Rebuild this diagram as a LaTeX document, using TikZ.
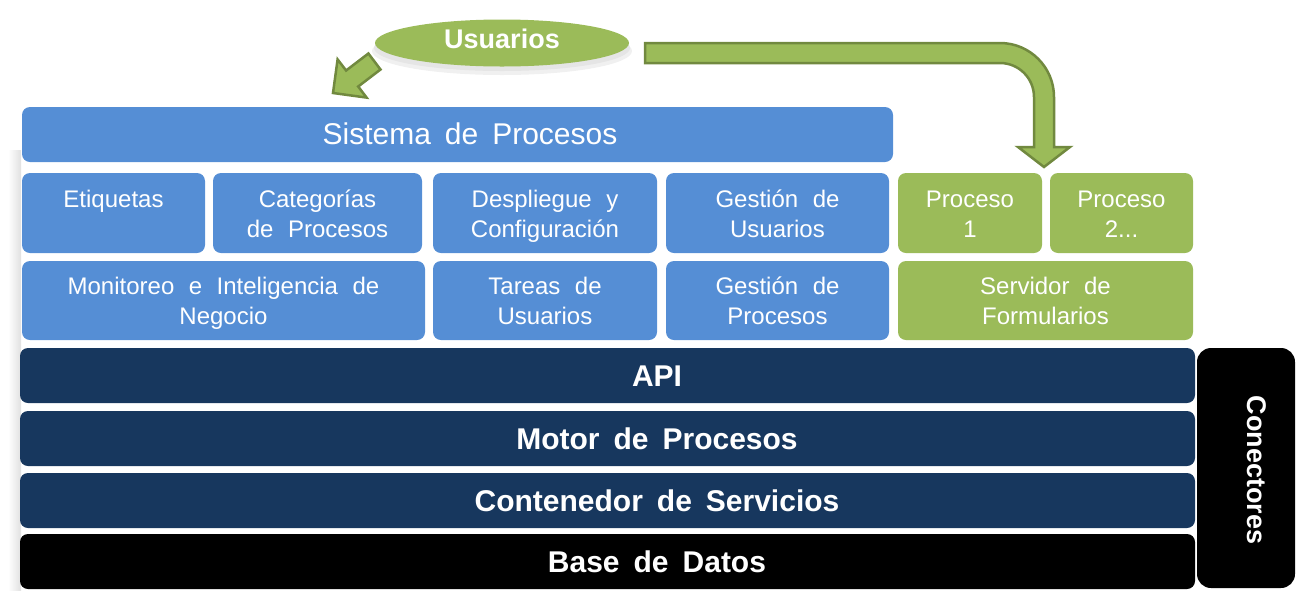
\documentclass[tikz,border=0pt]{standalone}
\usepackage{fontspec}
\setmainfont{Liberation Sans}
\usetikzlibrary{shapes.geometric}
\definecolor{cellblue}{HTML}{558ED5}
\definecolor{cellgreen}{HTML}{9BBB59}
\definecolor{arrowedge}{HTML}{71893F}
\definecolor{navy}{HTML}{17375E}
\newcommand\cst{\rule[-6pt]{0pt}{30pt}}
\newcommand\cellfont{\fontsize{24}{30}\selectfont\spaceskip=14.5pt plus 1pt\relax}
\newcommand\barfont{\bfseries\fontsize{30}{36}\selectfont\spaceskip=14pt plus 1pt\relax}
\newcommand\sisfont{\fontsize{30}{36}\selectfont\spaceskip=14pt plus 1pt\relax}
\tikzset{
  cellbox/.style={rounded corners=8pt, inner sep=0pt, text=white, align=center, font=\cellfont},
  bluecell/.style={cellbox, fill=cellblue},
  greencell/.style={cellbox, fill=cellgreen},
  barbox/.style={rounded corners=8pt, inner sep=0pt, minimum width=1175pt, minimum height=55pt},
  barlabel/.style={inner sep=0pt, text=white, font=\barfont, text height=21.5pt, text depth=0pt},
  blockarrow/.style={fill=cellgreen, draw=arrowedge, line width=2.5pt, line join=miter},
}
\begin{document}
\begin{tikzpicture}[x=1pt,y=-1pt]
\useasboundingbox (0,0) rectangle (1299,590);
% soft shadows
\shade[left color=white, right color=black!12] (8,150) rectangle (21,590);
\fill[black!6] (502,51) ellipse [x radius=130pt, y radius=24pt];
\fill[black!10] (502,48) ellipse [x radius=128pt, y radius=23pt];
% Usuarios
\node[ellipse, fill=cellgreen, minimum width=254pt, minimum height=47pt, inner sep=0pt] (usr) at (502,43) {};
\node[anchor=base, text=white, font=\bfseries\fontsize{27}{30}\selectfont, inner sep=0pt] (usrt) at (502,48) {Usuarios};
% top bar
\node[bluecell, minimum width=871pt, minimum height=55pt] (sis) at (457.5,134.5) {};
\node[anchor=base, text=white, font=\sisfont, inner sep=0pt] (sist) at (470,144) {Sistema de Procesos};
% row 1
\node[bluecell, minimum width=183pt, minimum height=80pt] (etq) at (113.5,213) {\cst Etiquetas\\\cst};
\node[bluecell, minimum width=209pt, minimum height=80pt] (cat) at (317.5,213) {\cst Categorías\\\cst de Procesos};
\node[bluecell, minimum width=224pt, minimum height=80pt] (desp) at (545,213) {\cst Despliegue y\\\cst Configuración};
\node[bluecell, minimum width=223pt, minimum height=80pt] (gu) at (777.5,213) {\cst Gestión de\\\cst Usuarios};
\node[greencell, minimum width=144pt, minimum height=80pt] (p1) at (970,213) {\cst Proceso\\\cst 1};
\node[greencell, minimum width=143pt, minimum height=80pt] (p2) at (1121.5,213) {\cst Proceso\\\cst 2...};
% row 2
\node[bluecell, minimum width=403pt, minimum height=79pt] (mon) at (223.5,300.5) {\cst Monitoreo e Inteligencia de\\\cst Negocio};
\node[bluecell, minimum width=224pt, minimum height=79pt] (tar) at (545,300.5) {\cst Tareas de\\\cst Usuarios};
\node[bluecell, minimum width=223pt, minimum height=79pt] (gp) at (777.5,300.5) {\cst Gestión de\\\cst Procesos};
\node[greencell, minimum width=295pt, minimum height=79pt] (serv) at (1045.5,300.5) {\cst Servidor de\\\cst Formularios};
% bars
\node[barbox, fill=navy] (api) at (607.5,375.5) {};
\node[barbox, fill=navy] (motor) at (607.5,438.5) {};
\node[barbox, fill=navy] (cont) at (607.5,500.5) {};
\node[barbox, fill=black] (bd) at (607.5,561.5) {};
\node[barlabel] (apit) at (657,375.5) {API};
\node[barlabel] (motort) at (657,438.5) {Motor de Procesos};
\node[barlabel] (contt) at (657,500.5) {Contenedor de Servicios};
\node[barlabel] (bdt) at (657,561.5) {Base de Datos};
% Conectores
\node[rounded corners=14pt, fill=black, minimum width=98pt, minimum height=240pt, inner sep=0pt] (con) at (1246,468) {};
\node[rotate=-90, text=white, font=\bfseries\fontsize{27}{32}\selectfont, inner sep=0pt] (cont2) at (1257,470) {Conectores};
% small arrow Usuarios -> Sistema
\draw[blockarrow] (333,93) -- (366.6,97.6) -- (358.2,86.5) -- (380.5,69.5) -- (368.4,53.5) -- (346.1,70.5) -- (337.6,59.4) -- cycle;
% bent arrow Usuarios -> Proceso 1
\draw[blockarrow] (645,43) -- (1000,43) .. controls (1029.8,43) and (1054,67.2) .. (1054,97) -- (1054,147) -- (1070,147) -- (1044,167) -- (1018,147) -- (1034,147) -- (1034,97) .. controls (1034,78.2) and (1018.8,63) .. (1000,63) -- (645,63) -- cycle;
\end{tikzpicture}
\end{document}
